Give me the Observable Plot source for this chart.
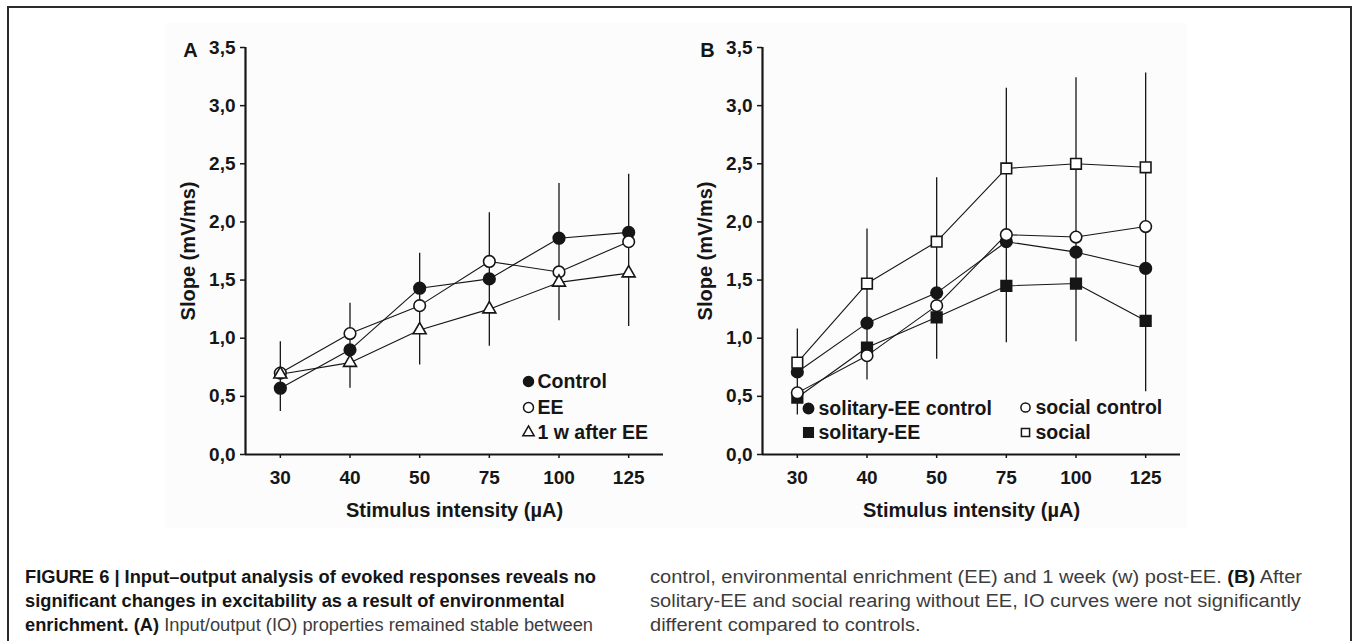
<!DOCTYPE html>
<html><head><meta charset="utf-8">
<script src="https://cdn.jsdelivr.net/npm/d3@7"></script>
<script src="https://cdn.jsdelivr.net/npm/@observablehq/plot@0.6"></script>
<style>
body{margin:0;background:#fff;width:1356px;height:641px;overflow:hidden;position:relative;font-family:"Liberation Sans",Arial,sans-serif}
#frame{position:absolute;left:7px;top:6px;width:1345px;height:720px;border:2.5px solid #2b2b2b;box-sizing:border-box}
#bg{position:absolute;left:166px;top:23px;width:1021px;height:505px;background:#fcfcfc}
.panel{position:absolute;top:0}
.cap{position:absolute;white-space:nowrap;color:#3c3c3c;font-size:18px;line-height:24px;top:565px}
.cap b{color:#151515}
.cap div{transform-origin:0 50%}
</style></head><body>
<div id="frame"></div>
<div id="bg"></div>
<div id="pa" class="panel" style="left:0px"></div>
<div id="pb" class="panel" style="left:517px"></div>
<div id="capL" class="cap" style="left:25px"></div>
<div id="capR" class="cap" style="left:650px"></div>
<script>
// ---------- data ----------
const intensities = ["30", "40", "50", "75", "100", "125"];
const yTicks = [0, 0.5, 1, 1.5, 2, 2.5, 3, 3.5];
const panelLetters = ["A", "B"];
const xTitle = "Stimulus intensity (µA)";
const yTitle = "Slope (mV/ms)";

// Panel A
const seriesNamesA = ["Control", "EE", "1 w after EE"];
const controlA = [0.57, 0.90, 1.43, 1.51, 1.86, 1.91];
const eeA      = [0.70, 1.04, 1.28, 1.66, 1.57, 1.83];
const postEEA  = [0.69, 0.79, 1.07, 1.25, 1.48, 1.56];
const errLowA  = [0.37, 0.57, 0.77, 0.93, 1.15, 1.10];
const errHighA = [0.97, 1.30, 1.73, 2.08, 2.33, 2.41];

// Panel B
const seriesNamesB = ["solitary-EE control", "solitary-EE", "social control", "social"];
const solCtrlB = [0.71, 1.13, 1.39, 1.83, 1.74, 1.60];
const solEEB   = [0.49, 0.92, 1.18, 1.45, 1.47, 1.15];
const socCtrlB = [0.53, 0.85, 1.28, 1.89, 1.87, 1.96];
const socialB  = [0.79, 1.47, 1.83, 2.46, 2.50, 2.47];
const errLowB  = [0.34, 0.64, 0.82, 0.96, 0.97, 0.54];
const errHighB = [1.08, 1.94, 2.38, 3.15, 3.24, 3.28];

// caption
const captionLeft = [
  [["b", "FIGURE 6 | Input–output analysis of evoked responses reveals no"]],
  [["b", "significant changes in excitability as a result of environmental"]],
  [["b", "enrichment. (A)"], ["r", " Input/output (IO) properties remained stable between"]]
];
const captionRight = [
  [["r", "control, environmental enrichment (EE) and 1 week (w) post-EE. "], ["b", "(B)"], ["r", " After"]],
  [["r", "solitary-EE and social rearing without EE, IO curves were not significantly"]],
  [["r", "different compared to controls."]]
];

// ---------- drawing ----------
const INK = "#161616";
const FONT = "'Liberation Sans', Arial, sans-serif";

function panel(letter, series, errLow, errHigh, legend) {
  const err = intensities.map((t, i) => ({i, lo: errLow[i], hi: errHigh[i]}));
  const marks = [
    Plot.ruleX(err, {x: "i", y1: "lo", y2: "hi", stroke: INK, strokeWidth: 1.3}),
    ...series.map(s => Plot.line(s.values.map((v, i) => ({i, v})), {x: "i", y: "v", stroke: INK, strokeWidth: 1.1})),
    ...series.map(s => Plot.dot(s.values.map((v, i) => ({i, v})), {
      x: "i", y: "v", symbol: s.symbol, r: s.r, fill: s.fill, stroke: INK, strokeWidth: 1.6
    })),
    Plot.ruleX([-0.5], {stroke: INK, strokeWidth: 2.2}),
    Plot.ruleY([0], {stroke: INK, strokeWidth: 2.2}),
    Plot.axisY({ticks: yTicks, tickFormat: d => d.toFixed(1).replace(".", ","), tickSize: 5, tickPadding: 5,
      fontSize: 19, fontWeight: "bold", strokeWidth: 1.5, label: null, stroke: INK, fill: INK}),
    Plot.axisX({ticks: intensities.map((d, i) => i), tickFormat: i => intensities[i], tickSize: 4, tickPadding: 12,
      fontSize: 19, fontWeight: "bold", strokeWidth: 1.5, label: null, stroke: INK, fill: INK}),
    Plot.text([letter], {text: d => d, frameAnchor: "top-left", dx: -55, dy: 3, textAnchor: "middle", lineAnchor: "middle",
      fontSize: 20, fontWeight: "bold", fill: INK}),
    Plot.text([yTitle], {text: d => d, frameAnchor: "left", dx: -57, rotate: -90, textAnchor: "middle", lineAnchor: "middle",
      fontSize: 20, fontWeight: "bold", fill: INK}),
    Plot.text([xTitle], {text: d => d, frameAnchor: "bottom", dy: 56, textAnchor: "middle", lineAnchor: "middle",
      fontSize: 20, fontWeight: "bold", fill: INK})
  ];
  for (const e of legend) {
    marks.push(Plot.dot([e], {frameAnchor: "bottom-left", dx: e.mx, dy: e.my, symbol: e.symbol, r: e.r,
      fill: e.fill, stroke: INK, strokeWidth: 1.5}));
    marks.push(Plot.text([e], {text: "name", frameAnchor: "bottom-left", dx: e.tx, dy: e.my, textAnchor: "start",
      lineAnchor: "middle", fontSize: 19.5, fontWeight: "bold", fill: INK}));
  }
  return Plot.plot({
    width: 680, height: 540,
    marginLeft: 245, marginRight: 17, marginTop: 47, marginBottom: 86,
    style: {background: "transparent", fontFamily: FONT, color: INK, overflow: "visible"},
    x: {type: "linear", domain: [-0.5, 5.5]},
    y: {domain: [0, 3.5]},
    marks
  });
}

const seriesA = [
  {values: controlA, symbol: "circle", r: 5.8, fill: INK},
  {values: eeA, symbol: "circle", r: 5.8, fill: "white"},
  {values: postEEA, symbol: "triangle", r: 4.8, fill: "white"}
];
const legendA = [
  {name: seriesNamesA[0], symbol: "circle", r: 5, fill: INK, mx: 283, tx: 292, my: -73},
  {name: seriesNamesA[1], symbol: "circle", r: 5, fill: "white", mx: 283, tx: 292, my: -47},
  {name: seriesNamesA[2], symbol: "triangle", r: 4.2, fill: "white", mx: 283, tx: 292, my: -22}
];
const seriesB = [
  {values: solCtrlB, symbol: "circle", r: 5.8, fill: INK},
  {values: solEEB, symbol: "square", r: 6, fill: INK},
  {values: socCtrlB, symbol: "circle", r: 5.8, fill: "white"},
  {values: socialB, symbol: "square", r: 6, fill: "white"}
];
const legendB = [
  {name: seriesNamesB[0], symbol: "circle", r: 5.2, fill: INK, mx: 46, tx: 56, my: -46},
  {name: seriesNamesB[1], symbol: "square", r: 5.4, fill: INK, mx: 46, tx: 56, my: -22},
  {name: seriesNamesB[2], symbol: "circle", r: 4.6, fill: "white", mx: 263, tx: 273, my: -47},
  {name: seriesNamesB[3], symbol: "square", r: 4.6, fill: "white", mx: 263, tx: 273, my: -22}
];

document.getElementById("pa").append(panel(panelLetters[0], seriesA, errLowA, errHighA, legendA));
document.getElementById("pb").append(panel(panelLetters[1], seriesB, errLowB, errHighB, legendB));

function fillCaption(el, lines, targetWidth) {
  const divs = lines.map(parts => {
    const div = document.createElement("div");
    const span = document.createElement("span");
    parts.forEach(([k, t]) => {
      const n = document.createElement(k === "b" ? "b" : "span");
      n.textContent = t;
      span.append(n);
    });
    div.append(span);
    el.append(div);
    return div;
  });
  const w = divs[0].firstChild.getBoundingClientRect().width;
  const k = targetWidth / w;
  divs.forEach(d => d.style.transform = `scaleX(${k.toFixed(4)})`);
}
fillCaption(document.getElementById("capL"), captionLeft, 571);
fillCaption(document.getElementById("capR"), captionRight, 652);
</script>
</body></html>
